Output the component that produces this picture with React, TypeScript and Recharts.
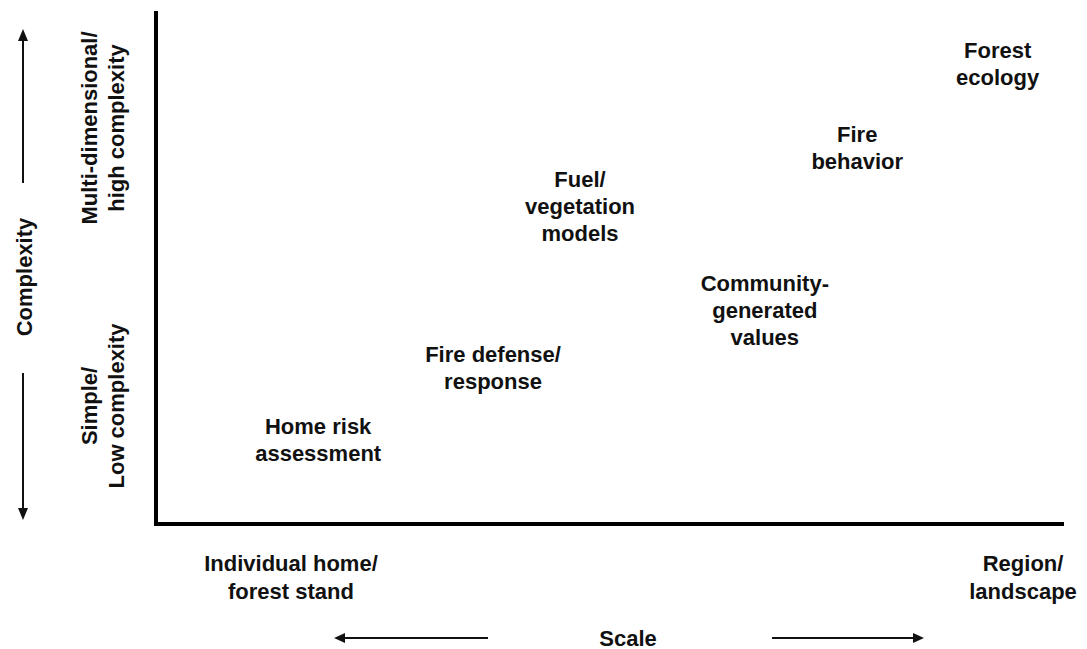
import React from "react";
import { ScatterChart, Scatter, XAxis, YAxis, Label } from "recharts";

// Concept items: position on scale (x) and complexity (y), 0-100
const itemNames = [
  ["Forest", "ecology"],
  ["Fire", "behavior"],
  ["Fuel/", "vegetation", "models"],
  ["Community-", "generated", "values"],
  ["Fire defense/", "response"],
  ["Home risk", "assessment"],
];
const itemScale = [92.9, 77.4, 46.8, 67.2, 37.2, 17.9];
const itemComplexity = [90.0, 73.6, 62.2, 41.7, 30.5, 16.4];

const xTickValues = [14.9, 95.7];
const xTickLabels = [
  ["Individual home/", "forest stand"],
  ["Region/", "landscape"],
];
const yTickValues = [23.1, 77.5];
const yTickLabels = [
  ["Simple/", "Low complexity"],
  ["Multi-dimensional/", "high complexity"],
];
const xTitle = "Scale";
const yTitle = "Complexity";

const data = itemNames.map((lines, i) => ({
  x: itemScale[i],
  y: itemComplexity[i],
  lines,
}));

const FONT = "'Liberation Sans', Arial, sans-serif";
const FS = 22;
const LH = 27;
const INK = "#111";

const ItemShape = (props: any) => {
  const { cx, cy, payload } = props;
  const lines: string[] = payload.lines;
  const start = -((lines.length - 1) / 2) * LH;
  return (
    <g>
      {lines.map((t, i) => (
        <text
          key={i}
          x={cx}
          y={cy + start + i * LH}
          textAnchor="middle"
          dominantBaseline="central"
          fontFamily={FONT}
          fontWeight="bold"
          fontSize={FS}
          fill={INK}
        >
          {t}
        </text>
      ))}
    </g>
  );
};

const XTick = (props: any) => {
  const { x, y, payload } = props;
  const idx = xTickValues.indexOf(payload.value);
  const lines = idx >= 0 ? xTickLabels[idx] : [];
  return (
    <g>
      {lines.map((t, i) => (
        <text
          key={i}
          x={x}
          y={y + 39 + i * 28}
          textAnchor="middle"
          dominantBaseline="central"
          fontFamily={FONT}
          fontWeight="bold"
          fontSize={FS}
          fill={INK}
        >
          {t}
        </text>
      ))}
    </g>
  );
};

const YTick = (props: any) => {
  const { x, y, payload } = props;
  const idx = yTickValues.indexOf(payload.value);
  const lines = idx >= 0 ? yTickLabels[idx] : [];
  return (
    <g>
      {lines.map((t, i) => {
        const tx = x - 66 + i * 27;
        return (
          <text
            key={i}
            x={tx}
            y={y}
            transform={`rotate(-90, ${tx}, ${y})`}
            textAnchor="middle"
            dominantBaseline="central"
            fontFamily={FONT}
            fontWeight="bold"
            fontSize={FS}
            fill={INK}
          >
            {t}
          </text>
        );
      })}
    </g>
  );
};

const XTitle = (props: any) => {
  const vb = props.viewBox;
  const cx = vb.x + vb.width * 0.521;
  const cy = vb.y + 114;
  return (
    <g>
      <text
        x={cx}
        y={cy}
        textAnchor="middle"
        dominantBaseline="central"
        fontFamily={FONT}
        fontWeight="bold"
        fontSize={FS}
        fill={INK}
      >
        {xTitle}
      </text>
      <line x1={cx - 140} y1={cy} x2={cx - 285} y2={cy} stroke={INK} strokeWidth={2} />
      <polygon points={`${cx - 294},${cy} ${cx - 283},${cy - 5} ${cx - 283},${cy + 5}`} fill={INK} />
      <line x1={cx + 144} y1={cy} x2={cx + 287} y2={cy} stroke={INK} strokeWidth={2} />
      <polygon points={`${cx + 296},${cy} ${cx + 285},${cy - 5} ${cx + 285},${cy + 5}`} fill={INK} />
    </g>
  );
};

const YTitle = (props: any) => {
  const vb = props.viewBox;
  const cx = vb.x + 16;
  const cy = vb.y + 264;
  return (
    <g>
      <text
        x={cx}
        y={cy}
        transform={`rotate(-90, ${cx}, ${cy})`}
        textAnchor="middle"
        dominantBaseline="central"
        fontFamily={FONT}
        fontWeight="bold"
        fontSize={FS}
        fill={INK}
      >
        {yTitle}
      </text>
      <line x1={cx - 1} y1={cy - 94} x2={cx - 1} y2={cy - 238} stroke={INK} strokeWidth={2} />
      <polygon points={`${cx - 1},${cy - 248} ${cx - 6},${cy - 236} ${cx + 4},${cy - 236}`} fill={INK} />
      <line x1={cx - 1} y1={cy + 96} x2={cx - 1} y2={cy + 233} stroke={INK} strokeWidth={2} />
      <polygon points={`${cx - 1},${cy + 243} ${cx - 6},${cy + 231} ${cx + 4},${cy + 231}`} fill={INK} />
    </g>
  );
};

export default function App() {
  return (
    <div style={{ width: 1079, height: 641, background: "#fff" }}>
      <ScatterChart
        width={1079}
        height={641}
        margin={{ top: 5, right: 25, bottom: 0, left: 0 }}
      >
        <XAxis
          type="number"
          dataKey="x"
          domain={[0, 100]}
          ticks={xTickValues}
          interval={0}
          height={125}
          tickSize={0}
          tickMargin={0}
          tickLine={false}
          axisLine={{ stroke: "#000", strokeWidth: 4, strokeLinecap: "square" }}
          tick={<XTick />}
        >
          <Label content={<XTitle />} />
        </XAxis>
        <YAxis
          type="number"
          dataKey="y"
          domain={[0, 100]}
          ticks={yTickValues}
          interval={0}
          width={148}
          tickSize={0}
          tickMargin={0}
          tickLine={false}
          axisLine={{ stroke: "#000", strokeWidth: 4, strokeLinecap: "square" }}
          tick={<YTick />}
        >
          <Label content={<YTitle />} />
        </YAxis>
        <Scatter data={data} isAnimationActive={false} shape={<ItemShape />} />
      </ScatterChart>
    </div>
  );
}
